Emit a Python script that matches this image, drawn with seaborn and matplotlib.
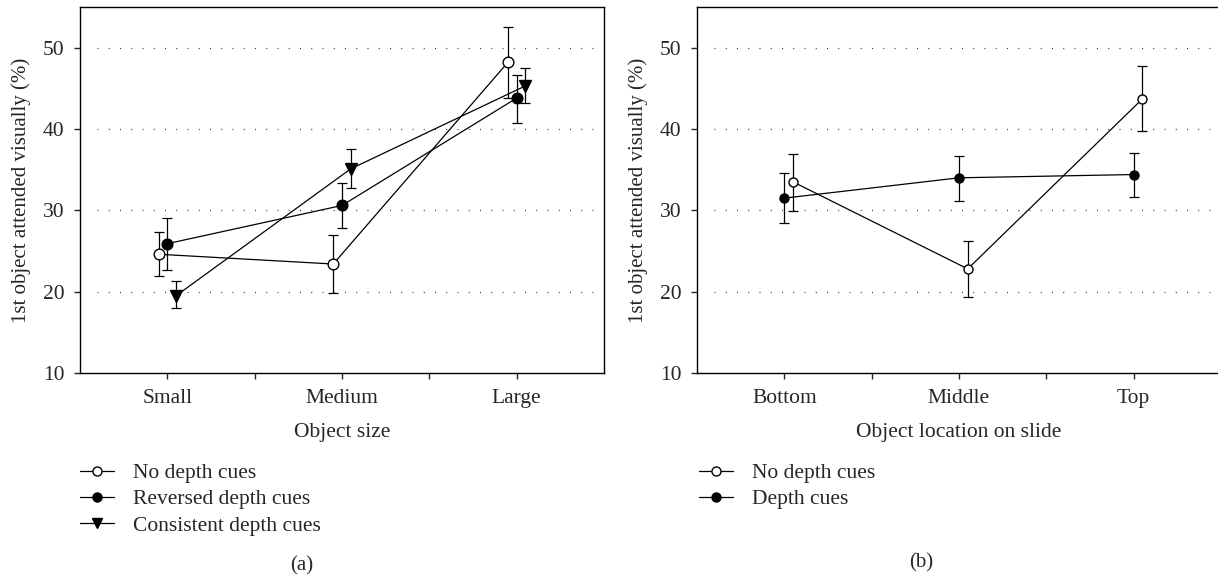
import numpy as np
import pandas as pd
import matplotlib
matplotlib.use("Agg")
import matplotlib.pyplot as plt
import seaborn as sns
from matplotlib.lines import Line2D

# category labels
sizes = ["Small", "Medium", "Large"]
locations = ["Bottom", "Middle", "Top"]

# panel (a): means and error bar ends
a_none = [24.6, 23.4, 48.2]
a_none_lo = [21.9, 19.8, 43.8]
a_none_hi = [27.3, 27.0, 52.6]
a_rev = [25.9, 30.6, 43.8]
a_rev_lo = [22.7, 27.8, 40.7]
a_rev_hi = [29.1, 33.3, 46.6]
a_con = [19.5, 35.1, 45.3]
a_con_lo = [18.0, 32.7, 43.2]
a_con_hi = [21.3, 37.5, 47.5]

# panel (b)
b_none = [33.5, 22.8, 43.7]
b_none_lo = [29.9, 19.3, 39.7]
b_none_hi = [36.9, 26.2, 47.7]
b_depth = [31.5, 34.0, 34.4]
b_depth_lo = [28.4, 31.2, 31.7]
b_depth_hi = [34.6, 36.7, 37.0]

yticks = [10, 20, 30, 40, 50]
grid_y = [20, 30, 40, 50]

sns.set_style("ticks")
plt.rcParams["font.family"] = ["Liberation Serif", "DejaVu Serif"]
plt.rcParams["font.size"] = 15.5
plt.rcParams["axes.linewidth"] = 1.0
plt.rcParams["xtick.major.width"] = 1.0
plt.rcParams["ytick.major.width"] = 1.0
plt.rcParams["xtick.minor.width"] = 1.0

W, H = 1218, 575
fig = plt.figure(figsize=(W / 100, H / 100), dpi=100)
ax1 = fig.add_axes([80 / W, 1 - 373 / H, 524 / W, 366 / H])
ax2 = fig.add_axes([697 / W, 1 - 373 / H, 524 / W, 366 / H])


def draw_series(ax, cats, vals, lo, hi, offset, marker, face, ms):
    df = pd.DataFrame({"cat": cats, "val": vals, "lo": lo, "hi": hi})
    df["pos"] = np.arange(len(cats)) + offset
    ax.errorbar(df["pos"], df["val"], yerr=[df["val"] - df["lo"], df["hi"] - df["val"]],
                fmt="none", ecolor="black", elinewidth=0.9, capsize=3.8, capthick=0.9, zorder=2)
    sns.lineplot(data=df, x="pos", y="val", ax=ax, color="black", linewidth=0.9,
                 marker=marker, markersize=ms, markerfacecolor=face,
                 markeredgecolor="black", markeredgewidth=1.0, zorder=3,
                 estimator=None, sort=False)


draw_series(ax1, sizes, a_none, a_none_lo, a_none_hi, -0.05, "o", "white", 7.7)
draw_series(ax1, sizes, a_rev, a_rev_lo, a_rev_hi, 0.0, "o", "black", 7.7)
draw_series(ax1, sizes, a_con, a_con_lo, a_con_hi, 0.05, "v", "black", 8.5)

draw_series(ax2, locations, b_depth, b_depth_lo, b_depth_hi, 0.0, "o", "black", 6.5)
draw_series(ax2, locations, b_none, b_none_lo, b_none_hi, 0.05, "o", "white", 6.5)


def style_axis(ax, cats, xlabel):
    ax.set_xlim(-0.5, 2.5)
    ax.set_ylim(10, 55)
    ax.set_xticks(range(len(cats)))
    ax.set_xticklabels(cats)
    ax.set_xticks([0.5, 1.5], minor=True)
    ax.set_yticks(yticks)
    ax.tick_params(axis="both", which="both", direction="out", length=4, pad=7)
    ax.tick_params(axis="x", pad=7.5)
    for y in grid_y:
        ax.axhline(y, xmin=0.033, xmax=0.98, color="#333333", linewidth=0.9,
                   linestyle=(0, (0.8, 8.2)), zorder=1)
    ax.set_xlabel(xlabel, va="center")
    ax.xaxis.set_label_coords(0.5, -(432 - 373) / 366)
    ax.set_ylabel("1st object attended visually (%)", va="center", fontsize=15)
    ax.yaxis.set_label_coords(-59 / 524, 0.5)
    for s in ax.spines.values():
        s.set_visible(True)
        s.set_color("black")


style_axis(ax1, sizes, "Object size")
style_axis(ax2, locations, "Object location on slide")


def handle(marker, face, ms):
    return Line2D([0], [0], color="black", linewidth=0.9, marker=marker, markersize=ms,
                  markerfacecolor=face, markeredgecolor="black", markeredgewidth=1.0)


leg_a = [handle("o", "white", 6.5), handle("o", "black", 6.5), handle("v", "black", 7)]
fig.legend(leg_a, ["No depth cues", "Reversed depth cues", "Consistent depth cues"],
           loc="upper left", bbox_to_anchor=(80 / W, 1 - 463 / H), frameon=False,
           borderpad=0, borderaxespad=0, handlelength=1.6, handletextpad=0.85,
           labelspacing=0.29, fontsize=15.5)

leg_b = [handle("o", "white", 6.5), handle("o", "black", 6.5)]
fig.legend(leg_b, ["No depth cues", "Depth cues"],
           loc="upper left", bbox_to_anchor=(699 / W, 1 - 463 / H), frameon=False,
           borderpad=0, borderaxespad=0, handlelength=1.6, handletextpad=0.85,
           labelspacing=0.29, fontsize=15.5)

fig.text(302 / W, 1 - 566 / H, "(a)", ha="center", va="center", fontsize=15)
fig.text(921 / W, 1 - 563 / H, "(b)", ha="center", va="center", fontsize=15)

fig.savefig("out.png", dpi=100)
